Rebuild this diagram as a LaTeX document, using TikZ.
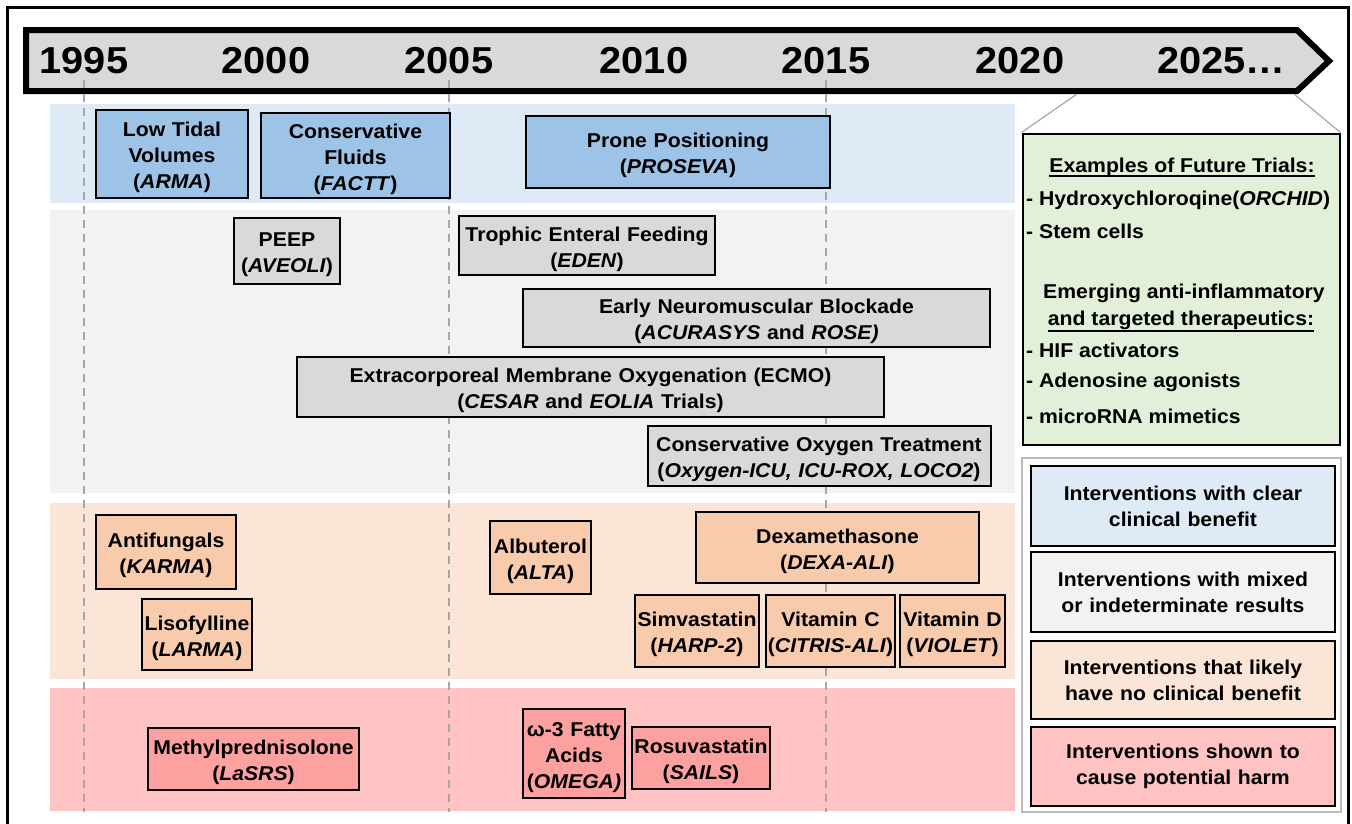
\documentclass[tikz,border=0pt]{standalone}
\usepackage{fontspec}
\setmainfont{Liberation Sans}[FakeStretch=1.06]

\begin{document}
\begin{tikzpicture}[x=1pt,y=-1pt,
		box/.style={draw=black,line width=2pt,align=center,inner sep=0pt,font=\fontsize{20}{26}\selectfont\bfseries},
		entry/.style={box,execute at begin node={\rule{0pt}{22pt}}},
		benefit/.style={entry,fill=boxblue},
		mixed/.style={entry,fill=boxgray},
		nobenefit/.style={entry,fill=boxorange},
		harm/.style={entry,fill=boxred},
		key/.style={box,text width=304,minimum height=80},
		year/.style={inner sep=0pt,font=\fontsize{37.5}{40}\selectfont\bfseries},
		yearline/.style={draw=linegray,line width=1.8pt,dash pattern=on 8pt off 6pt},
		heading/.style={anchor=base,inner sep=0pt,font=\fontsize{20}{26}\selectfont\bfseries},
		listitem/.style={anchor=base west,inner sep=0pt,font=\fontsize{20}{26}\selectfont\bfseries},
		uline/.style={line width=1.6pt}]
		\definecolor{timeline}{RGB}{217,217,217}
		\definecolor{linegray}{RGB}{166,166,166}
		\definecolor{bandblue}{RGB}{222,235,247}
		\definecolor{bandgray}{RGB}{242,242,242}
		\definecolor{bandorange}{RGB}{251,229,214}
		\definecolor{bandred}{RGB}{255,195,195}
		\definecolor{boxblue}{RGB}{157,195,230}
		\definecolor{boxgray}{RGB}{217,217,217}
		\definecolor{boxorange}{RGB}{248,203,173}
		\definecolor{boxred}{RGB}{252,160,160}
		\definecolor{futuregreen}{RGB}{226,240,217}

		\useasboundingbox (0,0) rectangle (1352,823);
		\draw[line width=3pt] (7,830) -- (7,7) -- (1348,7) -- (1348,830);

		% time axis
		\draw[line width=6pt,line join=miter,fill=timeline]
		      (26,30)
		   -- (1297,30)
		   -- (1329,61)
		   -- (1297,91)
		   -- (26,91)
		   -- cycle;
		\node[year] (y1995) at (84,61) {1995};
		\node[year] (y2000) at (266,61) {2000};
		\node[year] (y2005) at (449,61) {2005};
		\node[year] (y2010) at (644,61) {2010};
		\node[year] (y2015) at (826,61) {2015};
		\node[year] (y2020) at (1020,61) {2020};
		\node[year,anchor=west] (y2025) at (1157,61) {2025…};
		\coordinate (fl) at (1077,94);
		\coordinate (fr) at (1294,94);

		% bands
		\fill[bandblue] (50,104) rectangle (1015,203);
		\fill[bandgray] (50,210) rectangle (1015,493);
		\fill[bandorange] (50,503) rectangle (1015,679);
		\fill[bandred] (50,688) rectangle (1015,811);
		\foreach \yr in {1995,2005,2015}
			\draw[yearline] ([yshift=-6pt]y\yr.south) -- ++(0,732);

		% clear benefit
		\node[benefit,text width=152,minimum height=88] (arma) at (172,154) {Low Tidal\\Volumes\\(\textit{ARMA})};
		\node[benefit,text width=189,minimum height=85] (factt) at (355.5,155.5) {Conservative\\Fluids\\(\textit{FACTT})};
		\node[benefit,text width=304,minimum height=72] (proseva) at (678,152) {Prone Positioning\\(\textit{PROSEVA})};

		% mixed results
		\node[mixed,text width=106,minimum height=66] (aveoli) at (287,251) {PEEP\\(\textit{AVEOLI})};
		\node[mixed,text width=256,minimum height=59] (eden) at (587,245.5) {Trophic Enteral Feeding\\(\textit{EDEN})};
		\node[mixed,text width=467,minimum height=58] (rose) at (756.5,318) {Early Neuromuscular Blockade\\(\textit{ACURASYS} and \textit{ROSE)}};
		\node[mixed,text width=587,minimum height=60] (ecmo) at (590.5,387) {Extracorporeal Membrane Oxygenation (ECMO)\\(\textit{CESAR} and \textit{EOLIA} Trials)};
		\node[mixed,text width=343,minimum height=60] (oxygen) at (819,456) {Conservative Oxygen Treatment\\(\textit{Oxygen-ICU, ICU-ROX, LOCO2})};

		% no benefit
		\node[nobenefit,text width=140,minimum height=74] (karma) at (166,552) {Antifungals\\(\textit{KARMA})};
		\node[nobenefit,text width=110,minimum height=71] (larma) at (197,634.5) {Lisofylline\\(\textit{LARMA})};
		\node[nobenefit,text width=101,minimum height=73] (alta) at (540.5,557.5) {Albuterol\\(\textit{ALTA})};
		\node[nobenefit,text width=283,minimum height=71] (dexa) at (837.5,547.5) {Dexamethasone\\(\textit{DEXA-ALI})};
		\node[nobenefit,text width=124,minimum height=72] (harp) at (697,631) {Simvastatin\\(\textit{HARP-2})};
		\node[nobenefit,text width=129,minimum height=72] (citris) at (830.5,631) {Vitamin C\\(\textit{CITRIS-ALI})};
		\node[nobenefit,text width=105,minimum height=72] (violet) at (952.5,631) {Vitamin D\\(\textit{VIOLET})};

		% harm
		\node[harm,text width=211,minimum height=62] (lasrs) at (253.5,759) {Methylprednisolone\\(\textit{LaSRS})};
		\node[harm,text width=102,minimum height=89] (omega) at (574,753.5) {ω-3 Fatty\\Acids\\(\textit{OMEGA)}};
		\node[harm,text width=138,minimum height=62] (sails) at (701,757.5) {Rosuvastatin\\(\textit{SAILS})};

		% future trials
		\node[draw=black,line width=2pt,fill=futuregreen,minimum width=317,minimum height=311,inner sep=0pt] (future) at (1181,289) {};
		\draw[linegray,line width=1.2pt] (fl) -- (future.north west);
		\draw[linegray,line width=1.2pt] (fr) -- (future.north east);
		\node[heading] (fhead) at (1182,172) {Examples of Future Trials:};
		\draw[uline] ([yshift=-4pt]fhead.base west) -- ([yshift=-4pt]fhead.base east);
		\node[listitem] (orchid) at (1026,205) {- Hydroxychloroqine(\textit{ORCHID})};
		\node[listitem] (stem) at (1026,238) {- Stem cells};
		\node[heading] (emerg) at (1184,298) {Emerging anti-inflammatory};
		\node[heading] (target) at (1181,325) {and targeted therapeutics:};
		\draw[uline] ([yshift=-6pt]target.base west) -- ([yshift=-6pt]target.base east);
		\node[listitem] (hif) at (1026,357) {- HIF activators};
		\node[listitem] (adeno) at (1026,387) {- Adenosine agonists};
		\node[listitem] (mirna) at (1026,423) {- microRNA mimetics};

		% legend
		\node[draw=gray!55,line width=1.2pt,minimum width=319,minimum height=354,inner sep=0pt] (legend) at (1181.5,635) {};
		\node[key,fill=bandblue] (kbenefit) at (1183,506) {Interventions with clear\\clinical benefit};
		\node[key,fill=bandgray] (kmixed) at (1183,592) {Interventions with mixed\\or indeterminate results};
		\node[key,fill=bandorange,minimum height=78] (knobenefit) at (1183,680) {Interventions that likely\\have no clinical benefit};
		\node[key,fill=bandred,minimum height=79] (kharm) at (1183,766.5) {Interventions shown to\\cause potential harm};
	\end{tikzpicture}
\end{document}
